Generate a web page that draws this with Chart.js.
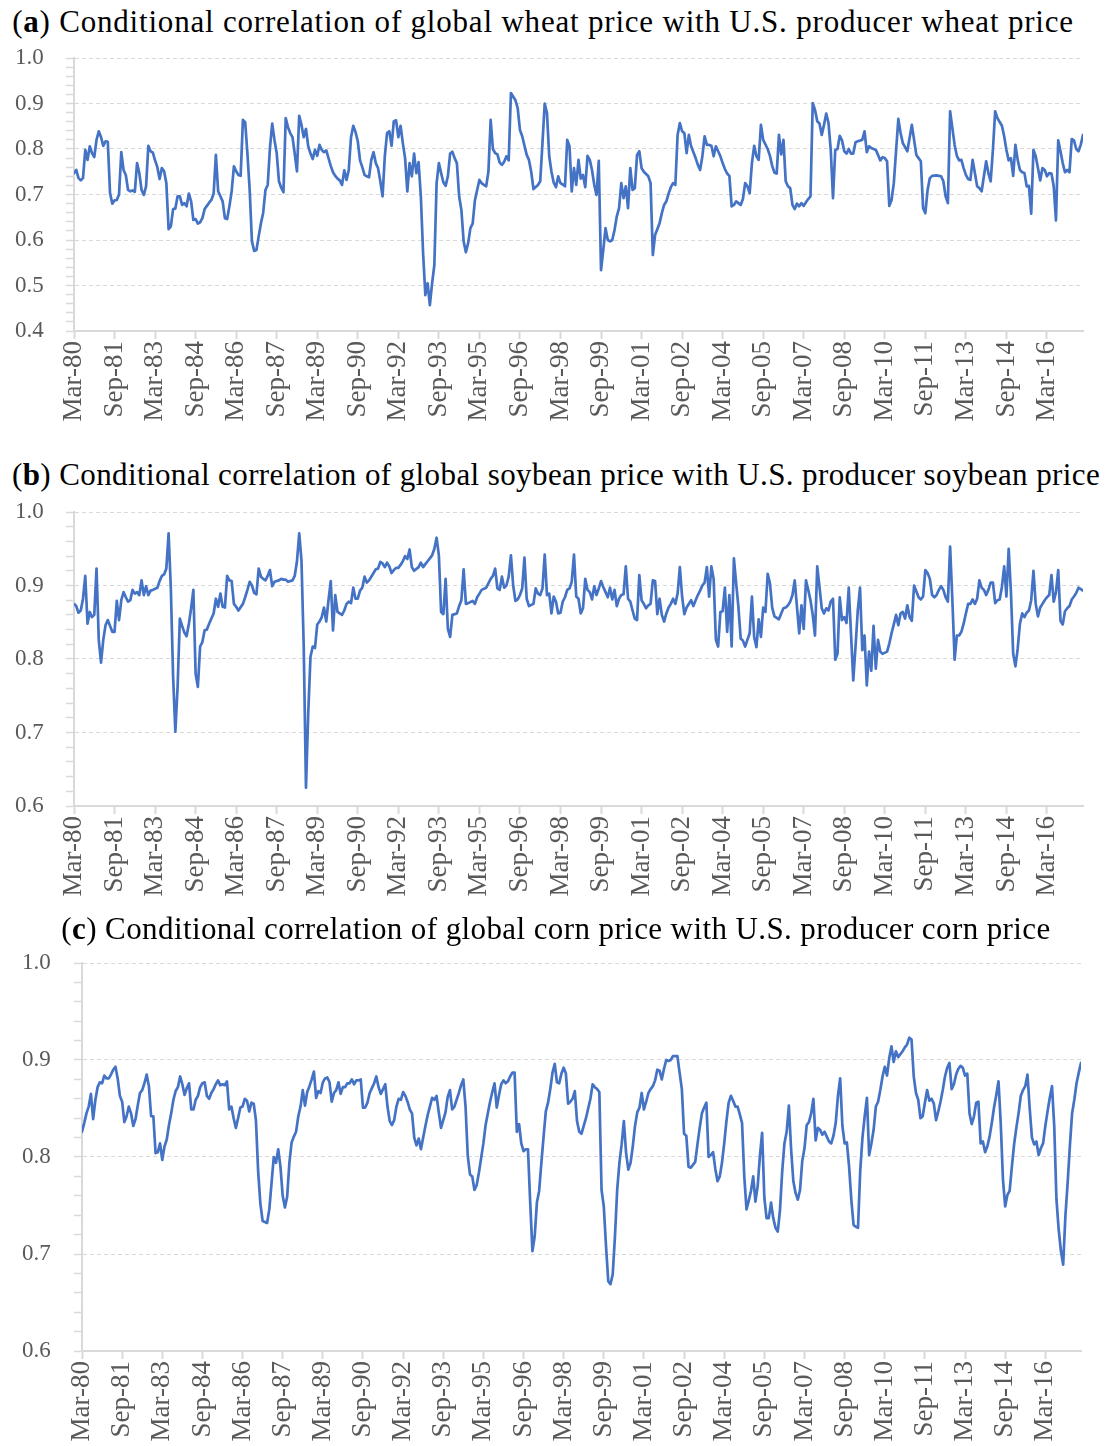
<!DOCTYPE html>
<html>
<head>
<meta charset="utf-8">
<title>Conditional correlations</title>
<script src="https://cdn.jsdelivr.net/npm/chart.js@4.4.1/dist/chart.umd.min.js"></script>
<style>
  html, body { margin: 0; padding: 0; background: #ffffff; }
  body { width: 1110px; height: 1446px; position: relative; overflow: hidden; }
  .title {
    position: absolute; width: 1110px; text-align: center;
    font-family: "Liberation Serif", serif; font-size: 31px; letter-spacing: 0.4px; color: #000;
    white-space: nowrap; line-height: 32px;
  }
  .box { position: absolute; left: 0; width: 1110px; }
</style>
</head>
<body>

<div class="title" style="top:6px;left:-12px;letter-spacing:0.8px">(<b>a</b>) Conditional correlation of global wheat price with U.S. producer wheat price</div>
<div class="box" style="top:40px;height:400px"><canvas id="wheatChart"></canvas></div>

<div class="title" style="top:459px;left:1px">(<b>b</b>) Conditional correlation of global soybean price with U.S. producer soybean price</div>
<div class="box" style="top:492px;height:423px"><canvas id="soyChart"></canvas></div>

<div class="title" style="top:913px;left:1px">(<b>c</b>) Conditional correlation of global corn price with U.S. producer corn price</div>
<div class="box" style="top:945px;height:501px"><canvas id="cornChart"></canvas></div>

<script>
/*
  Monthly data, Mar-80 = month 0.
  Each series is a list of [month, correlation].
*/

const tickLabels = ["Mar-80","Sep-81","Mar-83","Sep-84","Mar-86","Sep-87","Mar-89","Sep-90",
  "Mar-92","Sep-93","Mar-95","Sep-96","Mar-98","Sep-99","Mar-01","Sep-02","Mar-04","Sep-05",
  "Mar-07","Sep-08","Mar-10","Sep-11","Mar-13","Sep-14","Mar-16"];
const tickStep = 18;      // months between category labels
const lastMonth = 448;

const wheat = [
[0,.747],[1,.754],[2,.736],[3,.731],[4,.736],[5,.798],[6,.776],[7,.806],[8,.791],[9,.782],[10,.820],[11,.839],[12,.826],[13,.807],[14,.817],[15,.816],[16,.703],[17,.680],[18,.687],[19,.688],[20,.700],[21,.793],[22,.754],[23,.743],[24,.710],[25,.707],[26,.709],[27,.706],[28,.769],[29,.747],[30,.710],[31,.699],[32,.718],[33,.807],[34,.795],[35,.792],[36,.775],[37,.760],[38,.734],[39,.758],[40,.751],[41,.725],[42,.624],[43,.630],[44,.668],[45,.669],[46,.696],[47,.696],[48,.677],[49,.681],[50,.674],[51,.702],[52,.685],[53,.644],[54,.646],[55,.636],[56,.639],[57,.648],[58,.668],[59,.675],[60,.682],[61,.688],[62,.702],[63,.787],[64,.707],[65,.696],[66,.685],[67,.648],[68,.646],[69,.674],[70,.707],[71,.762],[72,.751],[73,.743],[74,.741],[75,.864],[76,.859],[77,.790],[78,.710],[79,.597],[80,.576],[81,.578],[82,.608],[83,.637],[84,.660],[85,.710],[86,.721],[87,.802],[88,.856],[89,.820],[90,.791],[91,.729],[92,.715],[93,.705],[94,.868],[95,.848],[96,.835],[97,.826],[98,.790],[99,.751],[100,.873],[101,.853],[102,.826],[103,.844],[104,.806],[105,.790],[106,.778],
[107,.798],[108,.785],[109,.809],[110,.798],[111,.793],[112,.797],[113,.780],[114,.763],[115,.749],[116,.741],[117,.735],[118,.731],[119,.721],[120,.753],[121,.732],[122,.754],[123,.826],[124,.851],[125,.837],[126,.817],[127,.775],[128,.760],[129,.743],[130,.740],[131,.738],[132,.776],[133,.793],[134,.769],[135,.758],[136,.729],[137,.696],[138,.784],[139,.835],[140,.839],[141,.807],[142,.861],[143,.863],[144,.826],[145,.851],[146,.813],[147,.780],[148,.707],[149,.769],[150,.740],[151,.790],[152,.747],[153,.771],[154,.696],[155,.571],[156,.479],[157,.505],[158,.457],[159,.505],[160,.545],[161,.725],[162,.769],[163,.747],[164,.727],[165,.719],[166,.740],[167,.790],[168,.794],[169,.780],[170,.769],[171,.696],[172,.666],[173,.597],[174,.573],[175,.593],[176,.626],[177,.636],[178,.687],[179,.710],[180,.732],[181,.725],[182,.721],[183,.718],[184,.750],[185,.864],[186,.800],[187,.791],[188,.788],[189,.770],[190,.765],[191,.772],[192,.784],[193,.775],[194,.923],[196,.907],[197,.890],[198,.842],[199,.828],[201,.787],[202,.776],[203,.750],[204,.712],[206,.721],[207,.729],[208,.813],[209,.900],[210,.879],[211,.784],[212,.750],[213,.726],[214,.716],[215,.740],[216,.725],[217,.722],[218,.718],[219,.820],
[220,.806],[221,.707],[222,.758],[223,.721],[224,.776],[225,.735],[226,.743],[227,.716],[228,.785],[229,.776],[230,.754],[231,.721],[232,.699],[233,.774],[234,.534],[235,.578],[236,.626],[237,.600],[238,.597],[239,.600],[240,.622],[241,.652],[242,.670],[243,.725],[244,.692],[245,.718],[246,.670],[247,.758],[248,.710],[249,.714],[250,.787],[251,.795],[252,.758],[253,.750],[255,.740],[256,.725],[257,.567],[258,.611],[260,.637],[261,.659],[262,.677],[263,.685],[264,.702],[265,.716],[266,.725],[267,.721],[268,.831],[269,.857],[270,.839],[271,.835],[272,.791],[273,.831],[274,.806],[276,.780],[277,.765],[278,.754],[279,.784],[280,.828],[281,.809],[282,.809],[283,.807],[284,.784],[285,.806],[287,.784],[288,.769],[289,.756],[290,.746],[291,.741],[292,.674],[293,.677],[294,.685],[295,.681],[296,.677],[297,.690],[298,.725],[299,.718],[300,.703],[301,.769],[302,.807],[303,.784],[304,.776],[305,.853],[306,.820],[308,.800],[309,.785],[310,.763],[311,.748],[312,.746],[313,.831],[314,.788],[315,.820],[316,.729],[317,.718],[318,.714],[319,.677],[320,.668],[321,.680],[322,.674],[323,.681],[324,.675],[325,.683],[326,.690],[327,.696],[328,.901],[329,.886],[330,.861],[331,.856],[332,.831],[333,.853],
[334,.878],[335,.857],[336,.798],[337,.692],[338,.798],[339,.800],[340,.829],[341,.819],[342,.795],[343,.790],[344,.800],[345,.790],[346,.790],[347,.815],[348,.817],[350,.820],[351,.839],[352,.793],[353,.806],[354,.802],[356,.798],[357,.787],[358,.775],[359,.782],[360,.780],[361,.773],[362,.675],[363,.688],[364,.725],[366,.866],[367,.835],[368,.813],[369,.804],[370,.795],[372,.853],[373,.820],[374,.787],[375,.780],[376,.773],[377,.670],[378,.659],[379,.710],[380,.736],[381,.741],[383,.742],[384,.741],[385,.740],[386,.729],[387,.696],[388,.681],[389,.883],[390,.846],[391,.809],[392,.785],[393,.775],[394,.776],[395,.758],[396,.743],[397,.734],[398,.732],[399,.776],[400,.747],[401,.718],[402,.714],[403,.707],[404,.740],[405,.773],[406,.747],[407,.729],[408,.798],[409,.883],[410,.868],[412,.851],[413,.828],[414,.798],[415,.775],[416,.780],[417,.741],[418,.809],[419,.776],[420,.754],[421,.749],[422,.747],[423,.718],[424,.719],[425,.658],[426,.798],[427,.784],[428,.758],[429,.731],[430,.758],[431,.754],[432,.740],[433,.747],[434,.746],[435,.718],[436,.643],[437,.819],[438,.795],[439,.769],[440,.749],[441,.754],[442,.749],[443,.822],[444,.819],[445,.800],[446,.795],[447,.809],[448,.831]
];

const soybean = [
[0,.875],[1,.872],[2,.863],[3,.866],[4,.882],[5,.913],[6,.848],[7,.864],[8,.857],[9,.860],[10,.923],[11,.826],[12,.795],[13,.826],[14,.846],[15,.853],[17,.837],[18,.837],[19,.879],[20,.853],[21,.880],[22,.891],[23,.884],[24,.878],[25,.880],[26,.894],[27,.889],[28,.891],[29,.887],[30,.907],[31,.887],[32,.899],[33,.887],[34,.893],[35,.894],[37,.897],[38,.906],[39,.913],[40,.915],[41,.923],[42,.971],[43,.896],[44,.776],[45,.701],[46,.762],[47,.855],[48,.845],[49,.836],[50,.831],[51,.848],[52,.869],[53,.894],[54,.780],[55,.762],[56,.817],[57,.823],[58,.839],[59,.840],[60,.848],[61,.855],[62,.862],[63,.882],[64,.871],[65,.889],[66,.871],[67,.870],[68,.913],[69,.907],[70,.906],[71,.875],[72,.871],[73,.866],[75,.875],[76,.884],[77,.894],[78,.905],[79,.900],[80,.890],[81,.888],[82,.923],[83,.912],[84,.909],[85,.907],[86,.913],[87,.921],[88,.899],[89,.905],[91,.907],[92,.909],[93,.908],[94,.908],[95,.905],[97,.907],[98,.913],[99,.933],[100,.971],[101,.934],[102,.817],[103,.625],[104,.726],[105,.803],[106,.817],
[107,.815],[108,.847],[109,.851],[110,.857],[111,.870],[112,.851],[113,.880],[114,.906],[115,.839],[116,.887],[117,.864],[118,.862],[119,.860],[120,.866],[121,.875],[122,.878],[123,.876],[124,.897],[125,.882],[126,.882],[127,.893],[128,.897],[129,.912],[130,.904],[131,.907],[132,.912],[133,.917],[134,.922],[135,.923],[136,.932],[137,.930],[138,.925],[139,.931],[140,.926],[141,.917],[142,.921],[143,.924],[144,.924],[145,.928],[146,.933],[147,.940],[148,.936],[149,.949],[150,.925],[151,.920],[153,.925],[154,.931],[155,.925],[156,.929],[157,.933],[158,.937],[159,.941],[160,.950],[161,.965],[162,.941],[163,.864],[164,.861],[165,.909],[166,.841],[167,.830],[168,.860],[170,.862],[171,.872],[172,.880],[173,.922],[174,.875],[175,.876],[177,.879],[178,.875],[179,.884],[180,.889],[181,.894],[183,.897],[184,.903],[185,.909],[186,.913],[187,.923],[188,.896],[189,.894],[190,.912],[191,.897],[192,.900],[193,.912],[194,.941],[195,.900],[196,.879],[197,.881],[198,.887],[199,.896],[200,.938],[201,.882],[202,.872],[204,.875],[205,.896],[206,.889],[207,.887],[208,.896],[209,.942],[210,.887],[211,.889],[212,.862],[213,.885],[214,.878],[215,.862],[216,.863],[217,.878],[218,.884],[219,.894],
[220,.896],[221,.905],[222,.942],[223,.885],[224,.882],[225,.862],[226,.869],[227,.909],[228,.894],[229,.891],[230,.881],[231,.899],[232,.887],[233,.896],[234,.906],[235,.898],[236,.891],[237,.884],[238,.897],[239,.881],[240,.894],[241,.872],[242,.882],[243,.887],[244,.888],[245,.926],[246,.882],[247,.878],[248,.866],[249,.855],[250,.853],[251,.914],[252,.880],[253,.875],[254,.869],[255,.873],[256,.875],[257,.907],[258,.906],[259,.861],[260,.882],[261,.860],[262,.851],[263,.862],[264,.870],[265,.875],[266,.882],[267,.875],[268,.889],[269,.925],[270,.885],[271,.861],[272,.870],[274,.880],[275,.872],[276,.880],[277,.887],[278,.893],[279,.900],[280,.904],[281,.925],[282,.885],[283,.926],[284,.909],[285,.826],[286,.817],[287,.864],[288,.865],[289,.897],[290,.837],[291,.887],[292,.817],[293,.937],[294,.903],[295,.871],[296,.828],[297,.825],[298,.817],[299,.826],[300,.835],[301,.885],[302,.830],[303,.816],[304,.854],[305,.830],[306,.870],[307,.864],[308,.916],[309,.903],[310,.870],[311,.858],[312,.856],[313,.854],[314,.862],[315,.869],[316,.870],[317,.873],[318,.878],[319,.887],[320,.907],[321,.871],[322,.835],[323,.873],[324,.841],[325,.907],[326,.894],[327,.880],[328,.860],[329,.832],[330,.926],[331,.898],[332,.869],[333,.862],
[334,.869],[335,.866],[336,.878],[337,.882],[338,.799],[339,.807],[340,.884],[341,.853],[342,.857],[343,.849],[344,.897],[346,.771],[347,.817],[348,.866],[349,.897],[350,.812],[351,.832],[352,.764],[353,.810],[354,.784],[355,.845],[356,.787],[357,.826],[358,.810],[359,.807],[361,.810],[362,.821],[363,.835],[364,.847],[365,.860],[366,.846],[367,.862],[368,.864],[369,.855],[370,.873],[371,.857],[372,.852],[373,.900],[375,.884],[376,.881],[377,.885],[378,.921],[379,.917],[380,.909],[381,.887],[382,.884],[383,.887],[384,.894],[385,.899],[386,.894],[387,.884],[388,.878],[389,.953],[390,.880],[391,.799],[392,.832],[393,.832],[394,.837],[395,.848],[396,.862],[397,.875],[398,.875],[399,.881],[400,.875],[401,.882],[402,.907],[403,.897],[404,.894],[405,.887],[406,.894],[407,.904],[408,.904],[409,.876],[410,.880],[411,.881],[412,.898],[413,.926],[414,.885],[415,.950],[416,.891],[417,.807],[418,.790],[419,.814],[420,.848],[421,.862],[422,.857],[423,.863],[424,.866],[425,.880],[426,.920],[427,.875],[428,.858],[429,.870],[430,.875],[431,.880],[432,.884],[433,.887],[434,.914],[435,.878],[436,.891],[437,.921],[438,.852],[439,.847],[440,.865],[441,.869],[442,.872],[443,.881],[444,.885],[445,.890],[446,.897],[448,.893]
];

const corn = [
[0,.826],[1,.835],[2,.845],[3,.852],[4,.865],[5,.839],[6,.859],[7,.872],[8,.877],[9,.876],[10,.884],[11,.881],[12,.881],[13,.885],[14,.890],[15,.893],[16,.881],[17,.863],[18,.857],[19,.836],[20,.842],[21,.852],[22,.845],[23,.832],[24,.839],[25,.853],[26,.866],[27,.869],[28,.876],[29,.885],[30,.873],[31,.842],[32,.842],[33,.804],[34,.805],[35,.814],[36,.797],[37,.811],[38,.818],[39,.833],[40,.845],[41,.859],[42,.868],[43,.872],[44,.883],[45,.875],[46,.864],[47,.871],[48,.876],[49,.849],[50,.849],[51,.859],[52,.863],[53,.872],[54,.876],[55,.877],[56,.863],[57,.860],[58,.866],[59,.870],[60,.875],[61,.879],[62,.874],[63,.875],[64,.874],[65,.878],[66,.849],[67,.852],[68,.840],[69,.830],[70,.840],[71,.851],[72,.852],[73,.860],[74,.858],[75,.847],[76,.856],[77,.855],[78,.838],[79,.785],[80,.752],[81,.734],[82,.733],[83,.732],[84,.746],[85,.773],[86,.800],[87,.794],[88,.808],[89,.790],[90,.760],[91,.748],[92,.759],[93,.794],[94,.815],[95,.821],[96,.826],[97,.842],[98,.852],[99,.869],[100,.853],[101,.867],[102,.873],[103,.880],
[104,.888],[105,.861],[106,.868],[107,.866],[108,.877],[109,.881],[110,.882],[111,.877],[112,.857],[113,.866],[114,.869],[115,.877],[116,.865],[117,.872],[118,.872],[119,.876],[120,.876],[121,.880],[122,.875],[123,.879],[124,.879],[125,.880],[126,.851],[127,.851],[128,.856],[129,.866],[130,.871],[131,.876],[132,.883],[133,.872],[134,.865],[135,.870],[136,.875],[137,.852],[138,.837],[139,.833],[140,.838],[141,.852],[142,.860],[143,.859],[144,.867],[145,.863],[146,.857],[147,.849],[148,.845],[149,.820],[150,.812],[151,.819],[152,.808],[153,.820],[154,.832],[155,.843],[156,.852],[157,.861],[158,.859],[159,.863],[160,.846],[161,.830],[162,.838],[163,.846],[164,.862],[165,.869],[166,.849],[167,.852],[168,.859],[169,.866],[170,.874],[171,.880],[172,.852],[173,.801],[174,.782],[175,.780],[176,.766],[177,.771],[178,.784],[179,.799],[180,.814],[181,.833],[182,.845],[183,.857],[184,.867],[185,.876],[186,.851],[187,.864],[188,.875],[189,.879],[190,.876],[191,.878],[192,.883],[193,.887],[194,.887],[195,.826],[196,.834],[197,.814],[198,.806],[199,.808],[200,.808],[201,.753],[202,.703],[203,.718],[204,.753],[205,.765],[206,.794],[207,.821],[208,.847],[209,.856],[210,.870],[211,.887],[212,.896],[213,.877],[214,.876],[215,.886],[216,.892],[217,.886],[218,.855],
[219,.857],[220,.860],[221,.868],[222,.837],[223,.826],[224,.824],[225,.832],[226,.840],[227,.850],[228,.860],[229,.875],[230,.872],[231,.870],[232,.867],[233,.766],[234,.749],[235,.708],[236,.672],[237,.669],[238,.679],[239,.718],[240,.766],[241,.794],[242,.813],[243,.837],[244,.804],[245,.787],[246,.794],[247,.811],[248,.832],[249,.846],[250,.851],[251,.866],[252,.849],[253,.857],[254,.866],[255,.870],[256,.873],[257,.879],[258,.890],[259,.889],[260,.880],[261,.891],[262,.900],[263,.899],[264,.900],[265,.904],[266,.904],[267,.904],[268,.887],[269,.870],[270,.824],[271,.822],[272,.790],[273,.789],[275,.795],[276,.813],[277,.830],[278,.845],[279,.851],[280,.856],[281,.800],[282,.802],[283,.805],[284,.788],[285,.775],[286,.780],[287,.794],[288,.814],[289,.837],[290,.856],[291,.863],[292,.858],[293,.852],[294,.852],[295,.844],[296,.835],[297,.780],[298,.746],[299,.755],[300,.765],[301,.780],[302,.754],[303,.770],[304,.801],[305,.825],[306,.758],[307,.737],[308,.737],[309,.753],[310,.737],[311,.727],[312,.723],[313,.745],[314,.785],[315,.814],[316,.826],[317,.853],[318,.808],[319,.775],[320,.763],[321,.756],[322,.766],[323,.796],[324,.809],[325,.833],[326,.836],[327,.845],[328,.860],[329,.817],[330,.830],[331,.828],[332,.823],
[333,.826],[334,.821],[335,.816],[336,.814],[337,.822],[338,.835],[339,.863],[340,.881],[341,.832],[342,.814],[343,.815],[344,.790],[345,.756],[346,.730],[347,.728],[348,.727],[349,.786],[350,.820],[351,.842],[352,.861],[353,.802],[354,.814],[355,.828],[356,.852],[357,.857],[358,.869],[359,.883],[360,.893],[361,.884],[362,.902],[363,.914],[364,.898],[365,.909],[366,.903],[368,.909],[369,.913],[370,.916],[371,.923],[372,.921],[373,.883],[374,.866],[375,.859],[376,.840],[377,.842],[378,.856],[379,.869],[380,.858],[381,.860],[382,.855],[383,.838],[384,.847],[385,.857],[386,.869],[387,.883],[388,.892],[389,.897],[390,.870],[391,.875],[392,.885],[393,.891],[394,.894],[395,.892],[396,.884],[397,.886],[398,.845],[399,.834],[400,.842],[401,.856],[402,.857],[403,.814],[404,.816],[405,.805],[406,.811],[407,.821],[408,.835],[409,.851],[410,.864],[411,.878],[412,.835],[413,.777],[414,.749],[415,.761],[416,.765],[417,.790],[418,.813],[419,.830],[420,.845],[421,.863],[422,.869],[423,.873],[424,.885],[425,.850],[426,.820],[427,.813],[428,.816],[429,.802],[430,.809],[431,.814],[432,.832],[433,.847],[434,.861],[435,.873],[436,.832],[437,.756],[438,.725],[439,.703],[440,.689],[441,.739],[442,.773],[443,.811],[444,.845],[445,.859],[446,.876],[447,.887],[448,.897]
];

/*
  Shared look for the three panels
*/
const LINE_BLUE = "#4472C4";
const AXIS_GREY = "#d9d9d9";
const LABEL_GREY = "#595959";
const SERIF = "'Liberation Serif', 'Times New Roman', serif";

// y ticks every 0.02, labelled every 0.1
function isMajor(value) {
  return Math.round(value * 50) % 5 === 0;
}

function renderPanel(canvasId, series, yMin, geom) {
  const ctx = document.getElementById(canvasId);

  return new Chart(ctx, {
    type: "line",
    data: {
      datasets: [{
        data: series.map(p => ({ x: p[0], y: p[1] })),
        borderColor: LINE_BLUE,
        borderWidth: 2.7,
        borderJoinStyle: "round",
        borderCapStyle: "round",
        pointRadius: 0,
        tension: 0,
        fill: false
      }]
    },
    options: {
      responsive: true,
      maintainAspectRatio: false,
      animation: false,
      events: [],
      layout: {
        padding: { top: geom.top, right: geom.right, left: geom.left, bottom: geom.bottom }
      },
      plugins: {
        legend: { display: false },
        tooltip: { enabled: false }
      },
      scales: {
        x: {
          type: "linear",
          min: 0,
          max: lastMonth,
          afterBuildTicks: function(scale) {
            scale.ticks = tickLabels.map((_, i) => ({ value: i * tickStep }));
          },
          afterFit: function(scale) {
            scale.height = geom.xHeight;
          },
          ticks: {
            autoSkip: false,
            minRotation: 90,
            maxRotation: 90,
            padding: 2,
            color: LABEL_GREY,
            font: { family: SERIF, size: 27 },
            callback: function(value) {
              return tickLabels[Math.round(value / tickStep)];
            }
          },
          grid: {
            drawOnChartArea: false,
            drawTicks: true,
            tickLength: 8,
            tickWidth: 2,
            tickColor: AXIS_GREY
          },
          border: { display: true, color: AXIS_GREY, width: 2 }
        },
        y: {
          min: yMin,
          max: 1.0,
          afterBuildTicks: function(scale) {
            const list = [];
            for (let i = Math.round(yMin * 50); i <= 50; i++) {
              list.push({ value: i / 50 });
            }
            scale.ticks = list;
          },
          afterFit: function(scale) {
            scale.width = geom.yWidth;
          },
          ticks: {
            autoSkip: false,
            padding: 0,
            crossAlign: "far",
            color: LABEL_GREY,
            font: { family: SERIF, size: 23 },
            callback: function(value) {
              return isMajor(value) ? value.toFixed(1) : "";
            }
          },
          grid: {
            drawTicks: true,
            tickLength: 8,
            tickWidth: 1.5,
            tickColor: AXIS_GREY,
            lineWidth: 1,
            color: function(c) {
              return c.tick && isMajor(c.tick.value) ? AXIS_GREY : "rgba(0,0,0,0)";
            }
          },
          border: { display: true, color: AXIS_GREY, width: 2, dash: [4, 3] }
        }
      }
    }
  });
}

renderPanel("wheatChart", wheat, 0.4,
  { top: 18, right: 27, left: 15, bottom: 9, yWidth: 59, xHeight: 100 });

renderPanel("soyChart", soybean, 0.6,
  { top: 20, right: 27, left: 15, bottom: 9, yWidth: 59, xHeight: 100 });

renderPanel("cornChart", corn, 0.6,
  { top: 18, right: 29, left: 22, bottom: 0, yWidth: 60, xHeight: 95 });
</script>
</body>
</html>
